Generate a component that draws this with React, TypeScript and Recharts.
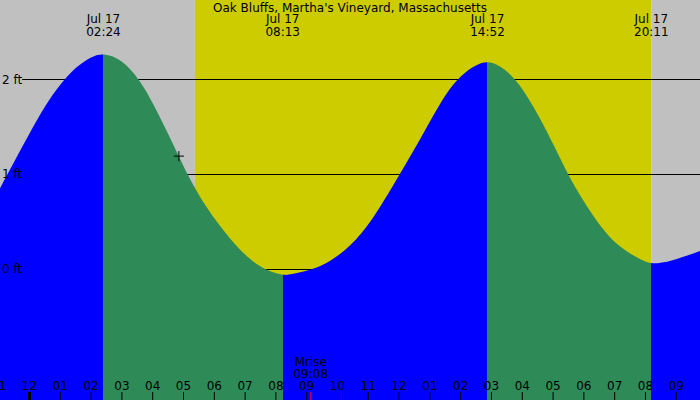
import React from "react"
import {
  Area,
  ComposedChart,
  ReferenceArea,
  ReferenceDot,
  ReferenceLine,
  XAxis,
  YAxis,
} from "recharts"

const TITLE = "Oak Bluffs, Martha's Vineyard, Massachusetts"

// tide height (ft), hours after midnight Jul 17
const TIDE_HOURS = [
  -0.96, -0.5, 0.0, 0.5, 1.0, 1.5, 2.0, 2.4, 3.0, 3.57, 4.08, 4.85, 5.12, 5.7,
  6.51, 7.38, 8.22, 8.46, 9.11, 9.54, 10.08, 10.62, 11.16, 12.03, 12.79, 13.38,
  13.87, 14.4, 14.87, 15.3, 15.82, 16.57, 17.47, 17.87, 18.31, 18.85, 19.39,
  19.93, 20.19, 20.83, 21.77,
]
const TIDE_FEET = [
  0.85, 1.13, 1.43, 1.72, 1.95, 2.13, 2.24, 2.28, 2.21, 2.0, 1.71, 1.19, 1.0,
  0.66, 0.31, 0.02, -0.07, -0.06, -0.01, 0.04, 0.15, 0.31, 0.53, 1.0, 1.43,
  1.78, 2.0, 2.14, 2.2, 2.14, 2.0, 1.61, 1.0, 0.78, 0.55, 0.32, 0.18, 0.085,
  0.05, 0.08, 0.19,
]

// highs and lows
const EXTREME_HOURS = [2.4, 8.22, 14.87, 20.19]
const EXTREME_LABELS = ["02:24", "08:13", "14:52", "20:11"]
const EXTREME_DATE = "Jul 17"

const SUNRISE = 5.37
const SUNSET = 20.2
const MOONRISE = 9.133
const MOONRISE_LABEL = "09:08"
const NOW_HOUR = 4.85
const NOW_FEET = 1.19

const FEET_LINES = [2, 1, 0]
const HOUR_TICKS = [-1, 0, 1, 2, 3, 4, 5, 6, 7, 8, 9, 10, 11, 12, 13, 14, 15, 16, 17, 18, 19, 20, 21]

const X_MIN = -0.958
const X_MAX = 21.77
const Y_MIN = -1.381
const Y_MAX = 2.836
const W = 700
const H = 400

const FONT = "DejaVu Sans"
const RISING = "#0000FF"
const FALLING = "#2E8B57"
const NIGHT = "#C0C0C0"
const DAY = "#CCCC00"

const data = TIDE_HOURS.map((h, i) => ({ h, ft: TIDE_FEET[i] }))

// hard colour switch at each high / low: rising blue, falling green
const first = TIDE_HOURS[0]
const span = TIDE_HOURS[TIDE_HOURS.length - 1] - first
const stops: { offset: number; color: string }[] = [{ offset: 0, color: RISING }]
EXTREME_HOURS.forEach((h, i) => {
  const off = (h - first) / span
  stops.push({ offset: off, color: i % 2 === 0 ? RISING : FALLING })
  stops.push({ offset: off, color: i % 2 === 0 ? FALLING : RISING })
})
stops.push({ offset: 1, color: EXTREME_HOURS.length % 2 === 0 ? RISING : FALLING })

const hourLabel = (h: number) => {
  const v = ((h % 12) + 12) % 12
  return String(v === 0 ? 12 : v).padStart(2, "0")
}

const label = (x: number, y: number, s: string) => (
  <text x={x} y={y} textAnchor="middle" fontSize={12} fontFamily={FONT} fill="#000">
    {s}
  </text>
)

const HourTick = (props: any) => {
  const { x, payload } = props
  const midnight = payload.value === 0
  return (
    <g>
      <line x1={x} x2={x} y1={H - 8} y2={H} stroke="#000" strokeWidth={midnight ? 3 : 1} />
      {label(x, H - 10, hourLabel(payload.value))}
    </g>
  )
}

export default function App() {
  return (
    <div style={{ position: "absolute", left: 0, top: 0 }}>
      <ComposedChart
        width={W}
        height={H}
        data={data}
        margin={{ top: 0, right: 0, bottom: 0, left: 0 }}
      >
        <defs>
          <linearGradient id="tideFill" x1="0" y1="0" x2="1" y2="0">
            {stops.map((s, i) => (
              <stop key={i} offset={s.offset} stopColor={s.color} />
            ))}
          </linearGradient>
        </defs>
        <XAxis
          type="number"
          dataKey="h"
          domain={[X_MIN, X_MAX]}
          allowDataOverflow
          ticks={HOUR_TICKS}
          interval={0}
          mirror
          axisLine={false}
          tickLine={false}
          tick={<HourTick />}
        />
        <YAxis type="number" domain={[Y_MIN, Y_MAX]} allowDataOverflow hide />

        <ReferenceArea x1={X_MIN} x2={SUNRISE} y1={Y_MIN} y2={Y_MAX} fill={NIGHT} fillOpacity={1} stroke="none" />
        <ReferenceArea x1={SUNRISE} x2={SUNSET} y1={Y_MIN} y2={Y_MAX} fill={DAY} fillOpacity={1} stroke="none" />
        <ReferenceArea x1={SUNSET} x2={X_MAX} y1={Y_MIN} y2={Y_MAX} fill={NIGHT} fillOpacity={1} stroke="none" />

        {/* foot lines sit behind the water, so drawn in the background layer */}
        {FEET_LINES.map((f) => (
          <ReferenceArea
            key={f}
            x1={-0.24}
            x2={X_MAX}
            y1={f - 0.01}
            y2={f + 0.01}
            shape={(p: any) => (
              <line
                x1={p.x}
                x2={p.x + p.width}
                y1={Math.round(p.y + p.height / 2) + 0.5}
                y2={Math.round(p.y + p.height / 2) + 0.5}
                stroke="#000"
                strokeWidth={1}
              />
            )}
          />
        ))}

        <Area
          dataKey="ft"
          type="basis"
          baseValue={Y_MIN}
          stroke="none"
          fill="url(#tideFill)"
          fillOpacity={1}
          isAnimationActive={false}
          dot={false}
          activeDot={false}
        />

        {FEET_LINES.map((f) => (
          <ReferenceLine
            key={`l${f}`}
            y={f}
            stroke="none"
            label={{
              value: `${f} ft`,
              position: "insideLeft",
              offset: 2,
              fill: "#000",
              fontSize: 12,
              fontFamily: FONT,
            }}
          />
        ))}

        {EXTREME_HOURS.map((h, i) => (
          <ReferenceLine
            key={`e${h}`}
            x={h}
            shape={(p: any) => (
              <g>
                {label(p.x1, 23, EXTREME_DATE)}
                {label(p.x1, 36, EXTREME_LABELS[i])}
              </g>
            )}
          />
        ))}

        <ReferenceLine
          x={MOONRISE}
          shape={(p: any) => (
            <g>
              <line x1={p.x1} x2={p.x1} y1={H - 8} y2={H} stroke="#FF0000" strokeWidth={1} />
              {label(p.x1, 366, "Mrise")}
              {label(p.x1, 378, MOONRISE_LABEL)}
            </g>
          )}
        />

        <ReferenceDot
          x={NOW_HOUR}
          y={NOW_FEET}
          shape={(p: any) => (
            <g stroke="#000" strokeWidth={1}>
              <line x1={p.cx - 5} x2={p.cx + 5} y1={p.cy} y2={p.cy} />
              <line x1={p.cx} x2={p.cx} y1={p.cy - 5} y2={p.cy + 5} />
            </g>
          )}
        />

        <ReferenceLine
          x={(X_MIN + X_MAX) / 2}
          shape={(p: any) => label(p.x1, 12, TITLE)}
        />
      </ComposedChart>
    </div>
  )
}
